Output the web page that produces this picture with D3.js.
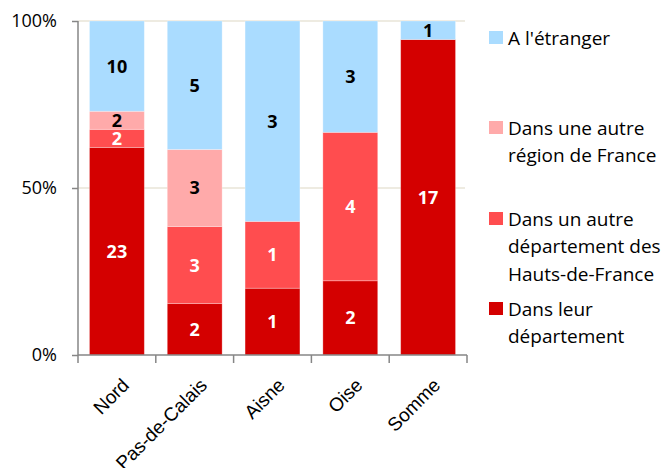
<!DOCTYPE html>
<html><head><meta charset="utf-8">
<script src="https://cdn.jsdelivr.net/npm/d3@7"></script>
<style>body{margin:0;background:#fff}svg{display:block;font-family:"Open Sans",sans-serif}</style>
</head><body><svg id="c" width="665" height="468"></svg>
<script>
const categories = ["Nord","Pas-de-Calais","Aisne","Oise","Somme"];
const seriesNames = ["Dans leur département","Dans un autre département des Hauts-de-France","Dans une autre région de France","A l'étranger"];
const dansLeurDep = [23,2,1,2,17];
const autreDepHdf = [2,3,1,4,0];
const autreRegion = [2,3,0,0,0];
const etranger = [10,5,3,3,1];
const yTicks = [0,0.5,1];
const yTickLabels = ["0%","50%","100%"];
const legendLabels = [["A l'étranger"],["Dans une autre","région de France"],["Dans un autre","département des","Hauts-de-France"],["Dans leur","département"]];
const colors = ["#d40000","#ff4d4f","#ffaaaa","#aadcff"];
const labelColors = ["#fff","#fff","#000","#000"];

const svg = d3.select("#c");
const m = {left:78, right:467, top:21, bottom:355};
const x = d3.scaleBand().domain(categories).range([m.left,m.right]).paddingInner(0.295).paddingOuter(0.1475);
const y = d3.scaleLinear().domain([0,1]).range([m.bottom,m.top]);

const rows = categories.map((c,i)=>({cat:c, s0:dansLeurDep[i], s1:autreDepHdf[i], s2:autreRegion[i], s3:etranger[i]}));
rows.forEach(r=>{r.total=r.s0+r.s1+r.s2+r.s3;});
const keys=["s0","s1","s2","s3"];
const stack = d3.stack().keys(keys).value((d,k)=>d[k]/d.total)(rows);

// gridlines
svg.append("g").selectAll("line").data(yTicks.filter(t=>t>0)).join("line")
  .attr("x1",m.left).attr("x2",m.right-2).attr("y1",d=>y(d)).attr("y2",d=>y(d))
  .attr("stroke","#ddd8c4").attr("stroke-width",1.2);

// bars
const g = svg.append("g");
stack.forEach((layer,li)=>{
  g.append("g").selectAll("rect").data(layer.filter(d=>d[1]-d[0]>0)).join("rect")
    .attr("x",d=>x(d.data.cat)).attr("width",x.bandwidth())
    .attr("y",d=>y(d[1])).attr("height",d=>y(d[0])-y(d[1]))
    .attr("fill",colors[li]).attr("stroke","rgba(255,255,255,0.35)").attr("stroke-width",0.8);
});
stack.forEach((layer,li)=>{
  g.append("g").selectAll("text").data(layer.filter(d=>d[1]-d[0]>0)).join("text")
    .attr("x",d=>x(d.data.cat)+x.bandwidth()/2)
    .attr("y",d=>(y(d[0])+y(d[1]))/2)
    .attr("dy","0.36em").attr("text-anchor","middle")
    .attr("font-weight","bold").attr("font-size",18).attr("fill",labelColors[li])
    .text(d=>d.data[keys[li]]);
});

// y axis
const ya = svg.append("g").attr("transform",`translate(${m.left},0)`)
  .call(d3.axisLeft(y).tickValues(yTicks).tickFormat((d,i)=>yTickLabels[i]).tickSize(6).tickPadding(15));
ya.select(".domain").attr("stroke","#868686").attr("stroke-width",1.5).attr("d",`M0,${m.top}V${m.bottom}`);
ya.selectAll(".tick line").attr("stroke","#868686").attr("stroke-width",1.5);
ya.selectAll("text").attr("font-size",18).attr("fill","#000").style("font-family","'Open Sans',sans-serif");

// x axis
const xa = svg.append("g").attr("transform",`translate(0,${m.bottom})`)
  .call(d3.axisBottom(x).tickSize(0).tickFormat(""));
xa.select(".domain").attr("stroke","#868686").attr("stroke-width",1.5).attr("d",`M${m.left},0H${m.right}`);
const step = x.step();
xa.append("g").selectAll("line").data(d3.range(categories.length+1)).join("line")
  .attr("x1",i=>m.left+i*step).attr("x2",i=>m.left+i*step).attr("y1",0).attr("y2",8)
  .attr("stroke","#868686").attr("stroke-width",1.5);
xa.append("g").selectAll("text").data(categories).join("text")
  .attr("transform",d=>`translate(${x(d)+x.bandwidth()/2+4},${22}) rotate(-45)`)
  .attr("text-anchor","end").attr("dy","0.7em")
  .attr("font-size",19).attr("fill","#000").text(d=>d);

// legend
const legY = [38,128,219,309];
const lg = svg.append("g");
legendLabels.forEach((lines,i)=>{
  const li = 3-i;
  lg.append("rect").attr("x",489).attr("y",legY[i]-7).attr("width",14).attr("height",13).attr("fill",colors[li]);
  lines.forEach((t,j)=>{
    lg.append("text").attr("x",508).attr("y",legY[i]+j*27.5).attr("dy","0.36em")
      .attr("font-size",19).attr("fill","#000").text(t);
  });
});
</script></body></html>
